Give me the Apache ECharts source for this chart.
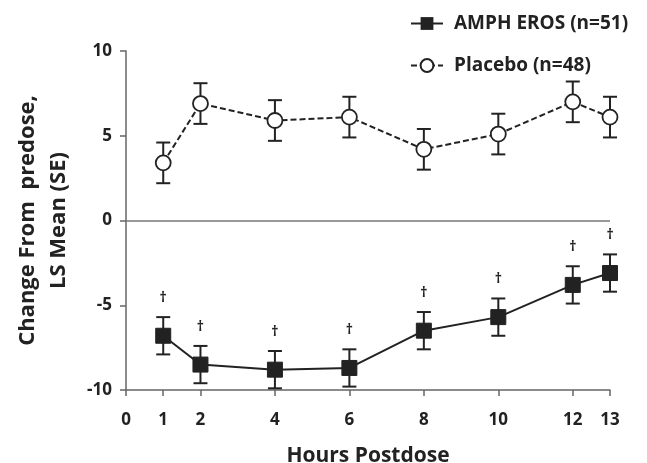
<!DOCTYPE html>
<html>
<head>
<meta charset="utf-8">
<script src="https://cdn.jsdelivr.net/npm/echarts@6/dist/echarts.min.js"></script>
<style>
  html, body { margin: 0; padding: 0; background: #fff; }
  #chart { width: 647px; height: 463px; }
</style>
</head>
<body>
<div id="chart"></div>
<script>
// data
var hours = [1, 2, 4, 6, 8, 10, 12, 13];
var xTicks = [0, 1, 2, 4, 6, 8, 10, 12, 13];
var amphMean = [-6.8, -8.5, -8.8, -8.7, -6.5, -5.7, -3.8, -3.1];
var amphSE = [1.1, 1.1, 1.1, 1.1, 1.1, 1.1, 1.1, 1.1];
var placeboMean = [3.4, 6.9, 5.9, 6.1, 4.2, 5.1, 7.0, 6.1];
var placeboSE = [1.2, 1.2, 1.2, 1.2, 1.2, 1.2, 1.2, 1.2];
var amphName = 'AMPH EROS (n=51)';
var placeboName = 'Placebo (n=48)';

var FONT = 'Open Sans';
var INK = '#222';

function pairs(xs, ys) {
  return xs.map(function (x, i) { return [x, ys[i]]; });
}
function bars(xs, m, se) {
  return xs.map(function (x, i) { return [x, m[i] - se[i], m[i] + se[i]]; });
}

// error bars (and the dagger marks above the AMPH ones)
function errorRender(withDagger) {
  return function (params, api) {
    var lo = api.coord([api.value(0), api.value(1)]);
    var hi = api.coord([api.value(0), api.value(2)]);
    var w = 7;
    var st = { stroke: INK, lineWidth: 2 };
    var kids = [
      { type: 'line', shape: { x1: lo[0], y1: lo[1], x2: hi[0], y2: hi[1] }, style: st },
      { type: 'line', shape: { x1: lo[0] - w, y1: lo[1], x2: lo[0] + w, y2: lo[1] }, style: st },
      { type: 'line', shape: { x1: hi[0] - w, y1: hi[1], x2: hi[0] + w, y2: hi[1] }, style: st }
    ];
    if (withDagger) {
      kids.push({
        type: 'text',
        style: { text: '\u2020', x: hi[0], y: hi[1] - 19, fill: INK, font: 'bold 14px ' + FONT, align: 'center', verticalAlign: 'middle' }
      });
    }
    return { type: 'group', children: kids };
  };
}

var chart = echarts.init(document.getElementById('chart'));
chart.setOption({
  animation: false,
  backgroundColor: '#fff',
  textStyle: { fontFamily: FONT },
  grid: { left: 126, right: 37, top: 51, bottom: 73, outerBoundsMode: 'none' },
  legend: {
    orient: 'vertical',
    left: 405,
    top: 9,
    itemGap: 23,
    itemWidth: 32,
    itemHeight: 16,
    data: [amphName, placeboName],
    textStyle: { fontFamily: FONT, fontWeight: 'bold', fontSize: 19, color: INK, padding: [0, 0, 0, 6] }
  },
  xAxis: {
    type: 'value',
    min: 0, max: 13, interval: 1,
    name: 'Hours Postdose',
    nameLocation: 'middle',
    nameGap: 56,
    nameTextStyle: { fontFamily: FONT, fontWeight: 'bold', fontSize: 21, color: INK },
    splitLine: { show: false },
    axisLine: { onZero: false, lineStyle: { color: '#666', width: 1.5 } },
    axisTick: { customValues: xTicks, length: 6, lineStyle: { color: '#666', width: 1.5 } },
    axisLabel: { customValues: xTicks, margin: 22, fontFamily: FONT, fontWeight: 'bold', fontSize: 17, color: INK }
  },
  yAxis: {
    type: 'value',
    min: -10, max: 10, interval: 5,
    name: 'Change From  predose,\nLS Mean (SE)',
    nameLocation: 'middle',
    nameRotate: 90,
    nameGap: 52,
    nameTextStyle: { fontFamily: FONT, fontWeight: 'bold', fontSize: 22, color: INK, lineHeight: 31 },
    splitLine: { show: false },
    axisLine: { show: true, lineStyle: { color: '#666', width: 1.5 } },
    axisTick: { show: true, length: 6, lineStyle: { color: '#666', width: 1.5 } },
    axisLabel: { margin: 14, fontFamily: FONT, fontWeight: 'bold', fontSize: 17, color: INK }
  },
  series: [
    {
      type: 'custom',
      name: 'amphErr',
      data: bars(hours, amphMean, amphSE),
      renderItem: errorRender(true),
      encode: { x: 0, y: [1, 2] },
      z: 1,
      silent: true
    },
    {
      type: 'custom',
      name: 'placeboErr',
      data: bars(hours, placeboMean, placeboSE),
      renderItem: errorRender(false),
      encode: { x: 0, y: [1, 2] },
      z: 1,
      silent: true
    },
    {
      type: 'line',
      name: amphName,
      data: pairs(hours, amphMean),
      symbol: 'rect',
      symbolSize: 15,
      lineStyle: { color: INK, width: 2 },
      itemStyle: { color: INK, borderColor: INK },
      z: 3,
      markLine: {
        silent: true,
        symbol: 'none',
        label: { show: false },
        lineStyle: { color: '#777', type: 'solid', width: 1.5 },
        data: [{ yAxis: 0 }]
      }
    },
    {
      type: 'line',
      name: placeboName,
      data: pairs(hours, placeboMean),
      symbol: 'circle',
      symbolSize: 15,
      lineStyle: { color: INK, width: 2, type: [6, 3] },
      itemStyle: { color: '#fff', borderColor: INK, borderWidth: 1.8 },
      z: 3
    }
  ]
});
</script>
</body>
</html>
